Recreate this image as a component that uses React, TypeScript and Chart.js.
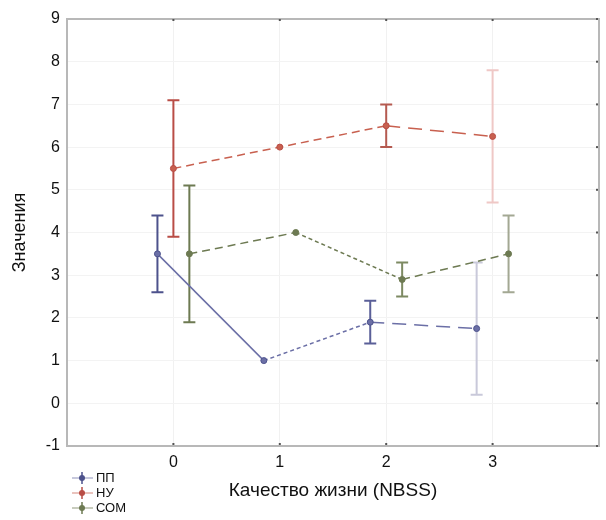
import React, { useEffect, useRef } from "react";
import { Chart, registerables } from "chart.js";

Chart.register(...registerables);

const categories = [0, 1, 2, 3];
const xTicks = [0, 1, 2, 3];
const yTicks = [-1, 0, 1, 2, 3, 4, 5, 6, 7, 8, 9];
const seriesNames = ["ПП", "НУ", "СОМ"];

const ppMean = [3.5, 1.0, 1.9, 1.75];
const ppErr = [0.9, 0, 0.5, 1.55];
const nuMean = [5.5, 6.0, 6.5, 6.25];
const nuErr = [1.6, 0, 0.5, 1.55];
const comMean = [3.5, 4.0, 2.9, 3.5];
const comErr = [1.6, 0, 0.4, 0.9];

const FONT = "'Liberation Sans', Arial, sans-serif";

const styles = [
  {
    offset: -0.15,
    line: "#6b6fa6",
    err: ["#4d528c", "#4d528c", "#5a5f98", "#c9c9da"],
    dashes: [[], [4, 3], [14, 8]],
  },
  {
    offset: 0,
    line: "#c8604f",
    err: ["#b94d46", "#b94d46", "#b55a50", "#efc8c6"],
    dashes: [[8, 5], [8, 5], [14, 8]],
  },
  {
    offset: 0.15,
    line: "#6d7a52",
    err: ["#6d7a52", "#6d7a52", "#7d8a62", "#a3a893"],
    dashes: [[8, 5], [4, 3], [8, 5]],
  },
];

const means = [ppMean, nuMean, comMean];
const errs = [ppErr, nuErr, comErr];

const errorBars = {
  id: "errorBars",
  beforeDatasetsDraw(chart: any) {
    const { ctx } = chart;
    const xs = chart.scales.x;
    const ys = chart.scales.y;
    ctx.save();
    means.forEach((m, si) => {
      const st = styles[si];
      m.forEach((v, i) => {
        const e = errs[si][i];
        if (!e) return;
        const x = xs.getPixelForValue(categories[i] + st.offset);
        const y1 = ys.getPixelForValue(v + e);
        const y2 = ys.getPixelForValue(v - e);
        ctx.strokeStyle = st.err[i];
        ctx.lineWidth = 2;
        ctx.setLineDash([]);
        ctx.beginPath();
        ctx.moveTo(x, y1);
        ctx.lineTo(x, y2);
        ctx.moveTo(x - 6, y1);
        ctx.lineTo(x + 6, y1);
        ctx.moveTo(x - 6, y2);
        ctx.lineTo(x + 6, y2);
        ctx.stroke();
      });
    });
    ctx.restore();
  },
};

const frame = {
  id: "frame",
  afterDraw(chart: any) {
    const { ctx, chartArea: a } = chart;
    const xs = chart.scales.x;
    const ys = chart.scales.y;
    ctx.save();
    ctx.strokeStyle = "#b8b8b8";
    ctx.lineWidth = 2;
    ctx.strokeRect(a.left, a.top, a.right - a.left, a.bottom - a.top);
    ctx.fillStyle = "#555";
    xTicks.forEach((t) => {
      const x = xs.getPixelForValue(t);
      ctx.fillRect(x - 1, a.top, 2, 2);
      ctx.fillRect(x - 1, a.bottom - 3, 2, 2);
    });
    yTicks.forEach((t) => {
      const y = ys.getPixelForValue(t);
      ctx.fillRect(a.right - 3, y - 1, 2, 2);
    });
    // legend
    ctx.font = `13px ${FONT}`;
    ctx.textBaseline = "middle";
    ctx.textAlign = "left";
    const rows = [478, 493, 508];
    seriesNames.forEach((name, si) => {
      const st = styles[si];
      const y = rows[si];
      const cx = 82;
      ctx.strokeStyle = st.line;
      ctx.globalAlpha = 0.5;
      ctx.lineWidth = 1.5;
      ctx.beginPath();
      ctx.moveTo(72, y);
      ctx.lineTo(93, y);
      ctx.stroke();
      ctx.globalAlpha = 1;
      ctx.strokeStyle = st.err[0];
      ctx.lineWidth = 1.5;
      ctx.beginPath();
      ctx.moveTo(cx, y - 6);
      ctx.lineTo(cx, y + 6);
      ctx.stroke();
      ctx.fillStyle = st.err[0];
      ctx.beginPath();
      ctx.arc(cx, y, 3, 0, Math.PI * 2);
      ctx.fill();
      ctx.fillStyle = "#111";
      ctx.fillText(name, 96, y);
    });
    ctx.restore();
  },
};

export default function App() {
  const ref = useRef<HTMLCanvasElement | null>(null);
  useEffect(() => {
    if (!ref.current) return;
    const datasets = means.map((m, si) => {
      const st = styles[si];
      return {
        label: seriesNames[si],
        data: m.map((v, i) => ({ x: categories[i] + st.offset, y: v })),
        borderColor: st.line,
        backgroundColor: st.err[0],
        borderWidth: 1.5,
        pointRadius: 3,
        pointBorderWidth: 1,
        pointBackgroundColor: st.line,
        pointBorderColor: st.err[0],
        fill: false,
        tension: 0,
        segment: {
          borderDash: (c: any) => st.dashes[c.p0DataIndex] || [],
        },
      };
    });
    const chart = new Chart(ref.current, {
      type: "line",
      data: { datasets },
      options: {
        animation: false,
        responsive: false,
        devicePixelRatio: 1,
        layout: { padding: { top: 19, right: 7, left: 0, bottom: 0 } },
        plugins: { legend: { display: false }, tooltip: { enabled: false } },
        scales: {
          x: {
            type: "linear",
            min: -1,
            max: 4,
            afterBuildTicks: (s: any) => {
              s.ticks = xTicks.map((v) => ({ value: v }));
            },
            afterFit: (s: any) => {
              s.height = 74;
            },
            grid: { color: "#f1f1f1", drawTicks: false, lineWidth: 1 },
            border: { display: false },
            ticks: {
              padding: 7,
              color: "#111",
              font: { family: FONT, size: 16 },
            },
            title: {
              display: true,
              text: "Качество жизни (NBSS)",
              color: "#111",
              font: { family: FONT, size: 19 },
              padding: { bottom: 18, top: 0 },
            },
          },
          y: {
            type: "linear",
            min: -1,
            max: 9,
            afterBuildTicks: (s: any) => {
              s.ticks = yTicks.map((v) => ({ value: v }));
            },
            afterFit: (s: any) => {
              s.width = 67;
            },
            grid: { color: "#f3f3f3", drawTicks: false, lineWidth: 1 },
            border: { display: false },
            ticks: {
              padding: 7,
              color: "#111",
              font: { family: FONT, size: 16 },
            },
            title: {
              display: true,
              text: "Значения",
              color: "#111",
              font: { family: FONT, size: 18 },
              padding: { top: 9, bottom: 0 },
            },
          },
        },
      },
      plugins: [errorBars, frame],
    });
    return () => chart.destroy();
  }, []);
  return (
    <div style={{ position: "absolute", left: 0, top: 0, width: 606, height: 520, background: "#fff" }}>
      <canvas ref={ref} width={606} height={520} style={{ width: 606, height: 520, display: "block" }} />
    </div>
  );
}
